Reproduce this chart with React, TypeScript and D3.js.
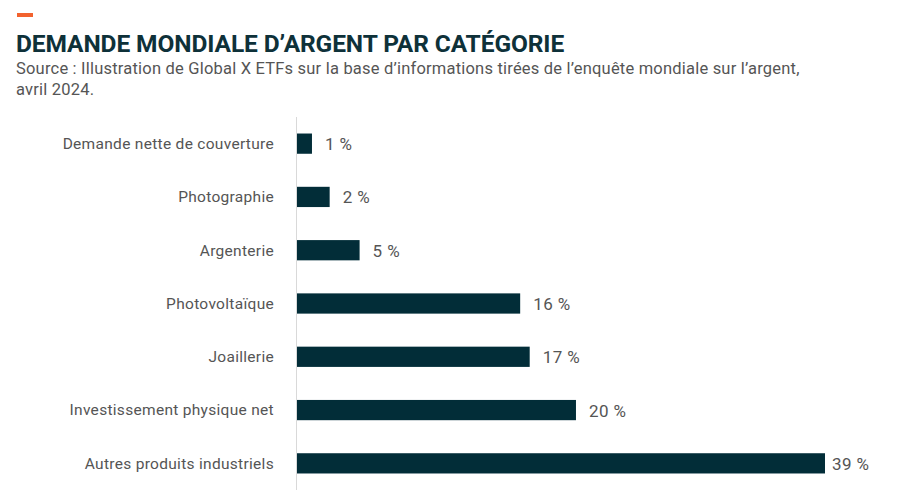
import React from "react";
import * as d3 from "d3";

const categories = [
  "Demande nette de couverture",
  "Photographie",
  "Argenterie",
  "Photovoltaïque",
  "Joaillerie",
  "Investissement physique net",
  "Autres produits industriels",
];
const values = [1.1, 2.4, 4.6, 16.4, 17.1, 20.5, 38.8];
const valueLabels = ["1 %", "2 %", "5 %", "16 %", "17 %", "20 %", "39 %"];

const W = 905;
const H = 496;

export default function App() {
  const x = d3.scaleLinear().domain([0, 38.8]).range([297, 825]);
  const y = d3
    .scaleBand()
    .domain(categories)
    .range([117, 490])
    .paddingInner(0.62)
    .paddingOuter(0.31);
  const font = "Roboto, 'Open Sans', sans-serif";
  return (
    <svg
      width={W}
      height={H}
      style={{ position: "absolute", left: 0, top: 0, background: "#fff" }}
      fontFamily={font}
    >
      <rect x={17} y={13} width={16} height={4} fill="#f2622e" />
      <text
        x={16}
        y={52}
        fontSize={24.5}
        fontWeight={700}
        fill="#0e3139"
        letterSpacing={-0.1}
      >
        DEMANDE MONDIALE D’ARGENT PAR CATÉGORIE
      </text>
      <text x={16} y={74} fontSize={16.5} fill="#555" letterSpacing={0.2}>
        Source : Illustration de Global X ETFs sur la base d’informations tirées de l’enquête mondiale sur l’argent,
      </text>
      <text x={16} y={95} fontSize={16.5} fill="#555" letterSpacing={0.2}>
        avril 2024.
      </text>
      <line x1={296.5} x2={296.5} y1={117} y2={490} stroke="#d9d9d9" strokeWidth={1} />
      {categories.map((c, i) => {
        const yc = (y(c) as number) + y.bandwidth() / 2;
        return (
          <g key={c}>
            <text
              x={274}
              y={yc}
              dy="0.35em"
              textAnchor="end"
              fontSize={15.5}
              letterSpacing={0.3}
              fill="#555"
            >
              {c}
            </text>
            <rect
              x={x(0)}
              y={y(c)}
              width={x(values[i]) - x(0)}
              height={y.bandwidth()}
              fill="#022d38"
            />
            <text
              x={x(values[i]) + (i === 6 ? 7 : 13)}
              y={yc}
              dy="0.38em"
              fontSize={17}
              letterSpacing={0.4}
              fill="#555"
            >
              {valueLabels[i]}
            </text>
          </g>
        );
      })}
    </svg>
  );
}
